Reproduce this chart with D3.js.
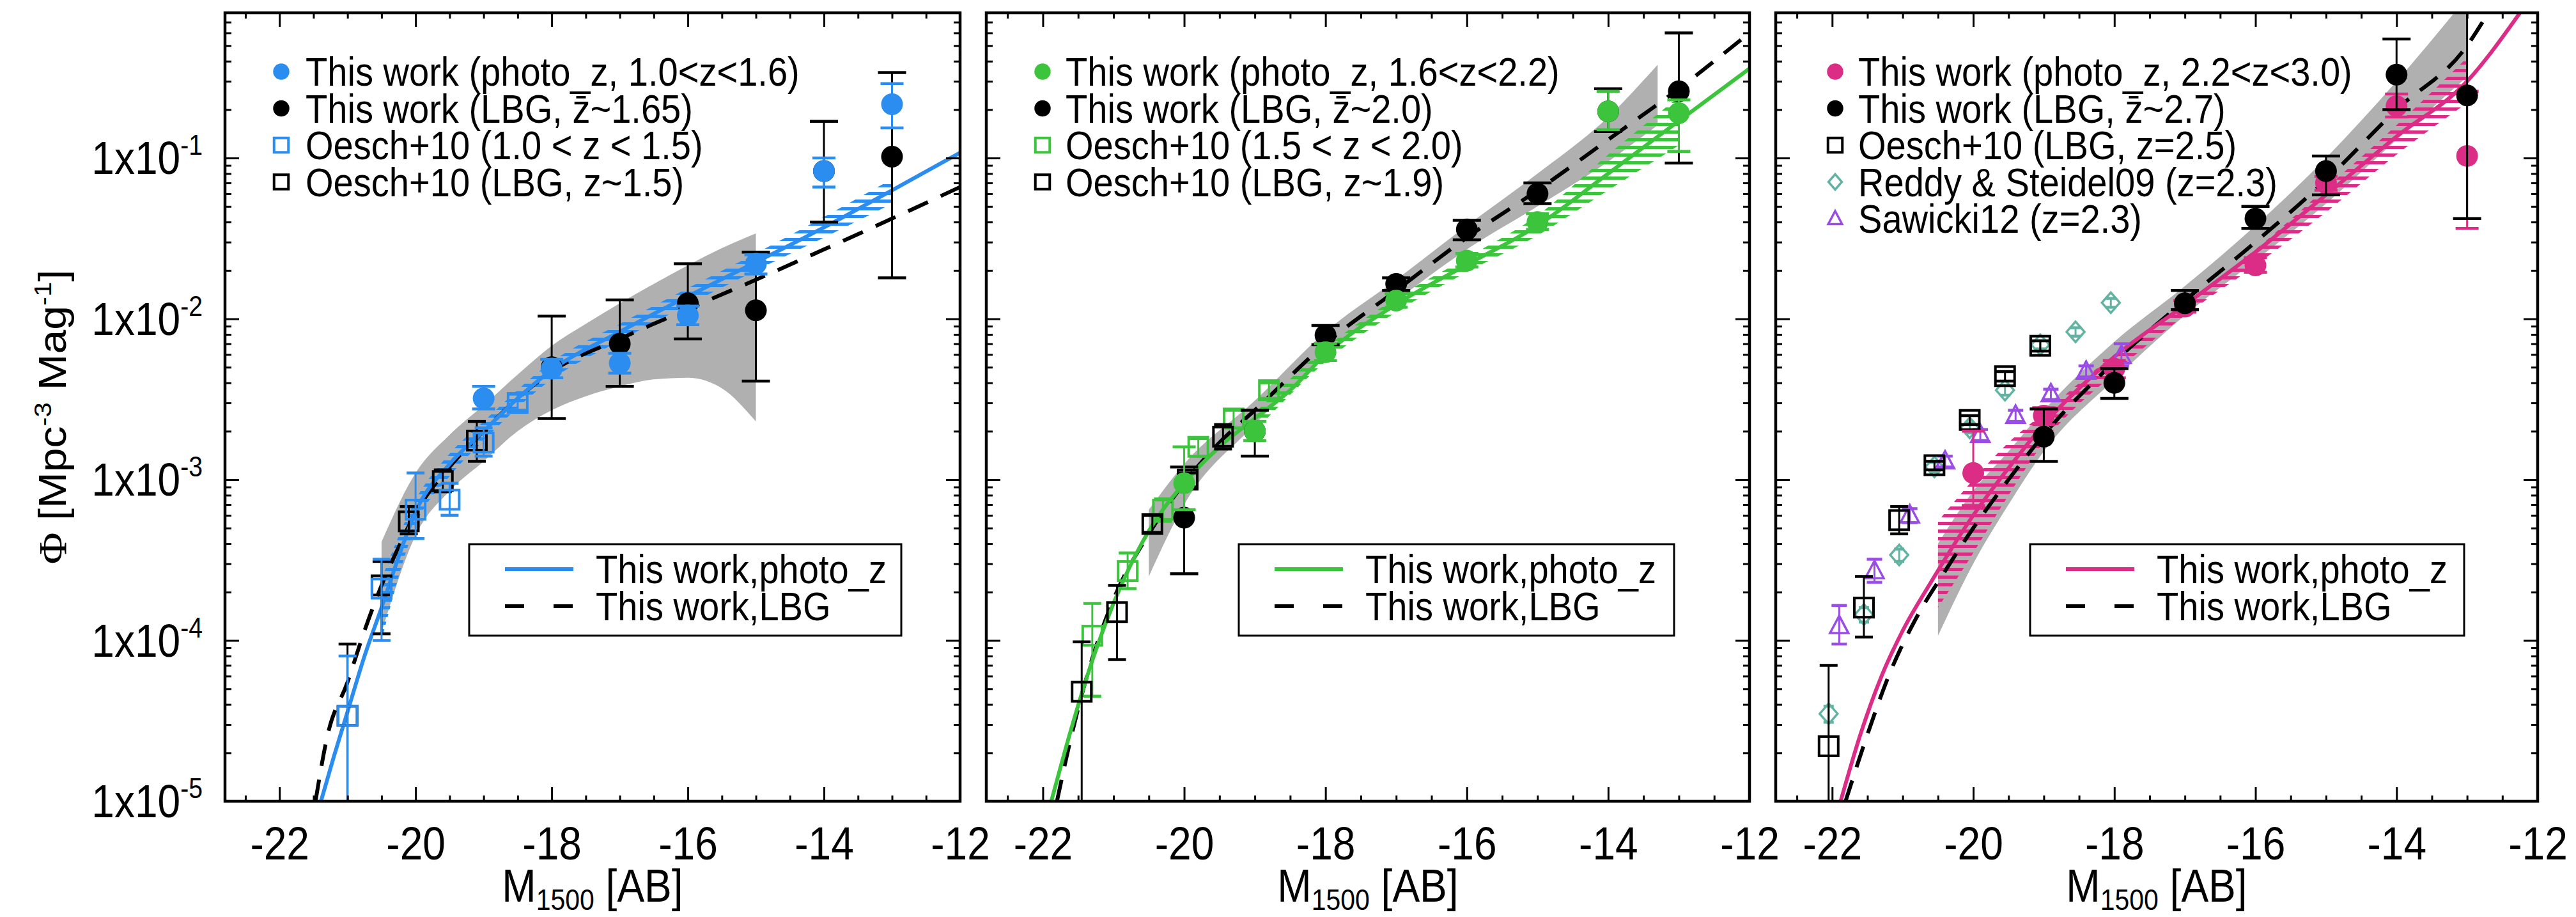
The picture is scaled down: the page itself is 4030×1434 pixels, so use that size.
<!DOCTYPE html>
<html>
<head>
<meta charset="utf-8">
<script src="https://cdn.jsdelivr.net/npm/d3@7"></script>
<style>
  body { margin: 0; background: #fff; }
  svg { display: block; }
  text { font-family: "Liberation Sans", Arial, Helvetica, sans-serif; fill: #000; }
</style>
</head>
<body>
<svg id="chart" width="4030" height="1434"></svg>
<script>
// ---------------- values ----------------
const xTicks = [-22, -20, -18, -16, -14, -12];
const yTicks = [1e-5, 1e-4, 1e-3, 1e-2, 1e-1];

// panel 1 : 1.0 < z < 1.6
const p1Labels = ["This work (photo_z, 1.0<z<1.6)", "This work (LBG, z\u0304~1.65)",
                  "Oesch+10 (1.0 < z < 1.5)", "Oesch+10 (LBG, z~1.5)"];
const p1PhotoM   = [-19, -18, -17, -16, -15, -14, -13];
const p1PhotoPhi = [3.2e-3, 4.9e-3, 5.3e-3, 1.05e-2, 2.2e-2, 8.3e-2, 0.216];
const p1PhotoLo  = [2.75e-3, 4.3e-3, 4.6e-3, 9.2e-3, 1.9e-2, 6.6e-2, 0.154];
const p1PhotoHi  = [3.8e-3, 5.6e-3, 6.1e-3, 1.2e-2, 2.5e-2, 0.1, 0.29];
const p1LbgM   = [-18, -17, -16, -15, -14, -13];
const p1LbgPhi = [5.0e-3, 7.0e-3, 1.25e-2, 1.13e-2, 8.3e-2, 0.102];
const p1LbgLo  = [2.4e-3, 3.8e-3, 7.5e-3, 4.1e-3, 4.0e-2, 1.8e-2];
const p1LbgHi  = [1.04e-2, 1.31e-2, 2.2e-2, 2.6e-2, 0.169, 0.34];
const p1OeschM   = [-21.0, -20.5, -20.0, -19.5, -19.0, -18.5];
const p1OeschPhi = [3.4e-5, 2.1e-4, 6.5e-4, 7.5e-4, 1.7e-3, 3.0e-3];
const p1OeschLo  = [1e-6, 1.0e-4, 4.3e-4, 6.0e-4, 1.4e-3, 2.7e-3];
const p1OeschHi  = [8.0e-5, 3.2e-4, 1.1e-3, 9.5e-4, 2.1e-3, 3.4e-3];
const p1OeschLbgM   = [-21.0, -20.5, -20.1, -19.6, -19.1];
const p1OeschLbgPhi = [3.4e-5, 2.2e-4, 5.5e-4, 9.8e-4, 1.75e-3];
const p1OeschLbgLo  = [1e-6, 1.1e-4, 4.6e-4, 8.4e-4, 1.3e-3];
const p1OeschLbgHi  = [9.5e-5, 3.1e-4, 6.8e-4, 1.15e-3, 2.3e-3];
const p1FitM   = [-21.39, -21.2, -21.0, -20.75, -20.5, -20.25, -20.0, -19.5, -19.0, -18.5, -18.0, -17.0, -16.0, -15.0, -14.0, -13.0, -12.0];
const p1FitPhi = [1e-5, 1.9e-5, 3.6e-5, 8.0e-5, 1.6e-4, 3.3e-4, 6.3e-4, 1.25e-3, 2.0e-3, 3.2e-3, 4.8e-3, 8.3e-3, 1.38e-2, 2.25e-2, 3.7e-2, 6.3e-2, 0.108];
const p1LbgFitM   = [-21.47, -21.3, -21.0, -20.75, -20.5, -20.25, -20.0, -19.5, -19.0, -18.5, -18.0, -17.0, -16.0, -15.0, -14.0, -13.0, -12.0];
const p1LbgFitPhi = [1e-5, 2.5e-5, 5.5e-5, 1.15e-4, 2.2e-4, 3.8e-4, 6.2e-4, 1.2e-3, 2.0e-3, 3.2e-3, 4.7e-3, 7.5e-3, 1.15e-2, 1.75e-2, 2.7e-2, 4.2e-2, 6.6e-2];
const p1BandM  = [-20.5, -20.0, -19.5, -19.0, -18.5, -18.0, -17.5, -17.0, -16.5, -16.0, -15.5, -15.0];
const p1BandHi = [4.1e-4, 1.1e-3, 1.9e-3, 2.9e-3, 4.5e-3, 6.8e-3, 9.3e-3, 1.25e-2, 1.65e-2, 2.15e-2, 2.75e-2, 3.4e-2];
const p1BandLo = [1.12e-4, 4.5e-4, 8.5e-4, 1.3e-3, 2.0e-3, 2.7e-3, 3.3e-3, 3.8e-3, 4.2e-3, 4.3e-3, 3.7e-3, 2.3e-3];
const p1HatchM  = [-20.5, -20.0, -19.5, -19.0, -18.0, -17.0, -16.0, -15.0, -14.0, -13.0];
const p1HatchHi = [2.4e-4, 7.5e-4, 1.45e-3, 2.3e-3, 5.4e-3, 9.3e-3, 1.55e-2, 2.55e-2, 4.3e-2, 7.4e-2];
const p1HatchLo = [1.0e-4, 5.2e-4, 1.05e-3, 1.75e-3, 4.2e-3, 7.3e-3, 1.22e-2, 2.0e-2, 3.2e-2, 5.2e-2];

// panel 2 : 1.6 < z < 2.2
const p2Labels = ["This work (photo_z, 1.6<z<2.2)", "This work (LBG, z\u0304~2.0)",
                  "Oesch+10 (1.5 < z < 2.0)", "Oesch+10 (LBG, z~1.9)"];
const p2PhotoM   = [-20, -19, -18, -17, -16, -15, -14, -13];
const p2PhotoPhi = [9.5e-4, 2.0e-3, 6.2e-3, 1.3e-2, 2.3e-2, 4.0e-2, 0.195, 0.19];
const p2PhotoLo  = [6.5e-4, 1.75e-3, 5.5e-3, 1.18e-2, 2.1e-2, 3.6e-2, 0.15, 0.11];
const p2PhotoHi  = [1.6e-3, 2.3e-3, 7.0e-3, 1.43e-2, 2.55e-2, 4.5e-2, 0.26, 0.23];
const p2LbgM   = [-20, -19, -18, -17, -16, -15, -14, -13];
const p2LbgPhi = [5.8e-4, 2.0e-3, 7.9e-3, 1.65e-2, 3.6e-2, 6.0e-2, 0.195, 0.26];
const p2LbgLo  = [2.6e-4, 1.4e-3, 6.9e-3, 1.5e-2, 3.1e-2, 5.2e-2, 0.146, 0.093];
const p2LbgHi  = [1.2e-3, 2.7e-3, 9.1e-3, 1.8e-2, 4.1e-2, 7.0e-2, 0.27, 0.6];
const p2OeschM   = [-21.3, -20.8, -20.3, -19.8, -19.3, -18.8];
const p2OeschPhi = [1.07e-4, 2.7e-4, 6.5e-4, 1.6e-3, 2.4e-3, 3.6e-3];
const p2OeschLo  = [4.5e-5, 2.1e-4, 5.5e-4, 1.4e-3, 2.1e-3, 3.2e-3];
const p2OeschHi  = [1.7e-4, 3.5e-4, 7.6e-4, 1.8e-3, 2.7e-3, 4.0e-3];
const p2OeschLbgM   = [-21.45, -20.95, -20.45, -19.95, -19.45];
const p2OeschLbgPhi = [4.8e-5, 1.5e-4, 5.3e-4, 1.0e-3, 1.85e-3];
const p2OeschLbgLo  = [1e-6, 7.6e-5, 4.7e-4, 9.0e-4, 1.55e-3];
const p2OeschLbgHi  = [9.8e-5, 2.2e-4, 6.0e-4, 1.1e-3, 2.2e-3];
const p2FitM   = [-21.88, -21.6, -21.3, -21.0, -20.5, -20.0, -19.5, -19.0, -18.5, -18.0, -17.0, -16.0, -15.0, -14.0, -13.0, -12.0];
const p2FitPhi = [1e-5, 2.8e-5, 7.5e-5, 1.7e-4, 4.8e-4, 9.5e-4, 1.6e-3, 2.4e-3, 3.6e-3, 6.0e-3, 1.23e-2, 2.17e-2, 3.8e-2, 8.0e-2, 0.17, 0.36];
const p2LbgFitM   = [-21.8, -21.6, -21.4, -21.0, -20.5, -20.0, -19.5, -19.0, -18.0, -17.0, -16.0, -15.0, -14.0, -13.0, -12.0];
const p2LbgFitPhi = [1e-5, 2.5e-5, 5.5e-5, 1.8e-4, 4.6e-4, 9.5e-4, 1.7e-3, 2.7e-3, 7.0e-3, 1.5e-2, 3.2e-2, 6.3e-2, 0.13, 0.27, 0.6];
const p2BandM  = [-20.5, -20.0, -19.0, -18.0, -17.0, -16.0, -15.0, -14.0, -13.3];
const p2BandHi = [6.5e-4, 1.25e-3, 3.1e-3, 8.3e-3, 1.75e-2, 3.8e-2, 8.0e-2, 0.18, 0.38];
const p2BandLo = [2.5e-4, 7.0e-4, 2.2e-3, 6.0e-3, 1.3e-2, 2.7e-2, 5.0e-2, 0.095, 0.16];
const p2HatchM  = [-19.0, -18.0, -17.0, -16.0, -15.0, -14.0, -13.0];
const p2HatchHi = [2.6e-3, 6.6e-3, 1.35e-2, 2.4e-2, 4.4e-2, 0.105, 0.24];
const p2HatchLo = [2.0e-3, 5.4e-3, 1.1e-2, 1.95e-2, 3.3e-2, 6.3e-2, 0.12];

// panel 3 : 2.2 < z < 3.0
const p3Labels = ["This work (photo_z, 2.2<z<3.0)", "This work (LBG, z\u0304~2.7)",
                  "Oesch+10  (LBG, z=2.5)", "Reddy & Steidel09 (z=2.3)", "Sawicki12 (z=2.3)"];
const p3PhotoM   = [-20, -19, -18, -17, -16, -15, -14, -13];
const p3PhotoPhi = [1.1e-3, 2.5e-3, 4.9e-3, 1.19e-2, 2.15e-2, 7.0e-2, 0.21, 0.103];
const p3PhotoLo  = [6.9e-4, 2.2e-3, 4.3e-3, 1.1e-2, 1.95e-2, 6.3e-2, 0.18, 0.0365];
const p3PhotoHi  = [2.0e-3, 2.8e-3, 5.5e-3, 1.3e-2, 2.4e-2, 7.7e-2, 0.25, 0.26];
const p3LbgM   = [-19, -18, -17, -16, -15, -14, -13];
const p3LbgPhi = [1.85e-3, 4.0e-3, 1.25e-2, 4.2e-2, 8.3e-2, 0.33, 0.245];
const p3LbgLo  = [1.3e-3, 3.2e-3, 1.14e-2, 3.65e-2, 5.9e-2, 0.2, 0.042];
const p3LbgHi  = [2.75e-3, 4.9e-3, 1.5e-2, 5.0e-2, 0.103, 0.55, 0.9];
const p3OeschLbgM   = [-22.05, -21.55, -21.05, -20.55, -20.05, -19.55, -19.05];
const p3OeschLbgPhi = [2.2e-5, 1.6e-4, 5.6e-4, 1.23e-3, 2.35e-3, 4.4e-3, 6.8e-3];
const p3OeschLbgLo  = [1e-6, 1.05e-4, 4.6e-4, 1.15e-3, 2.2e-3, 4.1e-3, 6.3e-3];
const p3OeschLbgHi  = [7.0e-5, 2.5e-4, 6.8e-4, 1.3e-3, 2.5e-3, 4.7e-3, 7.3e-3];
const p3ReddyM   = [-22.05, -21.55, -21.05, -20.55, -20.05, -19.55, -19.05, -18.55, -18.05];
const p3ReddyPhi = [3.5e-5, 1.45e-4, 3.4e-4, 1.2e-3, 2.1e-3, 3.6e-3, 6.9e-3, 8.3e-3, 1.26e-2];
const p3ReddyLo  = [3.1e-5, 1.3e-4, 3.1e-4, 1.12e-3, 1.95e-3, 3.35e-3, 6.5e-3, 7.8e-3, 1.18e-2];
const p3ReddyHi  = [3.9e-5, 1.6e-4, 3.7e-4, 1.28e-3, 2.25e-3, 3.85e-3, 7.3e-3, 8.8e-3, 1.34e-2];
const p3SawickiM   = [-21.9, -21.4, -20.9, -20.4, -19.9, -19.4, -18.9, -18.4, -17.9];
const p3SawickiPhi = [1.23e-4, 2.7e-4, 6.0e-4, 1.3e-3, 1.9e-3, 2.5e-3, 3.4e-3, 4.7e-3, 5.9e-3];
const p3SawickiLo  = [9.5e-5, 2.3e-4, 5.4e-4, 1.2e-3, 1.75e-3, 2.3e-3, 3.15e-3, 4.35e-3, 5.1e-3];
const p3SawickiHi  = [1.65e-4, 3.2e-4, 6.6e-4, 1.4e-3, 2.05e-3, 2.7e-3, 3.65e-3, 5.1e-3, 7.0e-3];
const p3FitM   = [-21.88, -21.6, -21.3, -21.0, -20.6, -20.0, -19.5, -19.0, -18.0, -17.0, -16.0, -15.0, -14.0, -13.0, -12.25];
const p3FitPhi = [1e-5, 2.6e-5, 6.0e-5, 1.15e-4, 2.3e-4, 6.0e-4, 1.18e-3, 2.2e-3, 5.8e-3, 1.22e-2, 2.6e-2, 5.9e-2, 0.136, 0.30, 0.8];
const p3LbgFitM   = [-21.81, -21.5, -21.2, -20.8, -20.4, -20.0, -19.5, -19.0, -18.0, -17.0, -16.0, -15.0, -14.0, -13.0, -12.7];
const p3LbgFitPhi = [1e-5, 2.6e-5, 6.0e-5, 1.4e-4, 2.7e-4, 5.0e-4, 1.0e-3, 1.9e-3, 5.4e-3, 1.3e-2, 3.0e-2, 7.3e-2, 0.2, 0.5, 0.8];
const p3BandM  = [-20.5, -20.0, -19.5, -19.0, -18.0, -17.0, -16.0, -15.0, -14.0, -13.0];
const p3BandHi = [4.0e-4, 8.5e-4, 1.5e-3, 2.7e-3, 7.2e-3, 1.6e-2, 3.8e-2, 0.1, 0.3, 1.0];
const p3BandLo = [1.07e-4, 3.0e-4, 7.0e-4, 1.5e-3, 4.2e-3, 1.05e-2, 2.3e-2, 5.2e-2, 0.13, 0.32];
const p3HatchM  = [-20.5, -20.0, -19.5, -19.0, -18.0, -17.0, -16.0, -15.0, -14.0, -13.0];
const p3HatchHi = [5.5e-4, 1.0e-3, 1.7e-3, 2.6e-3, 6.0e-3, 1.25e-2, 2.7e-2, 6.5e-2, 0.16, 0.42];
const p3HatchLo = [1.6e-4, 3.5e-4, 8.0e-4, 1.7e-3, 4.6e-3, 1.05e-2, 2.15e-2, 4.6e-2, 0.105, 0.22];

// ---------------- layout / style ----------------
const TOP = 20, BOTTOM = 1253;
const SQ = 0.89;                 // the source figure is slightly squeezed horizontally
const BLUE = "#2b8def", GREEN = "#3cc43c", PINK = "#dc2d86", TEAL = "#63b3a3", PURPLE = "#9a4ce6";
const GRAY = "#b0b0b0";

const pts = (m, phi, lo, hi) => m.map((d, i) => ({m: d, phi: phi[i], lo: lo[i], hi: hi[i]}));
const crv = (m, phi) => m.map((d, i) => ({m: d, phi: phi[i]}));
const band = (m, lo, hi) => m.map((d, i) => ({m: d, lo: lo[i], hi: hi[i]}));

const panels = [
  { x0: 352, x1: 1502, box: 382, boxW: 676, legX: 88, legT: 126, color: BLUE, labels: p1Labels,
    fit: crv(p1FitM, p1FitPhi), lbgFit: crv(p1LbgFitM, p1LbgFitPhi),
    band: band(p1BandM, p1BandLo, p1BandHi), hatch: band(p1HatchM, p1HatchLo, p1HatchHi),
    series: [
      {d: pts(p1OeschLbgM, p1OeschLbgPhi, p1OeschLbgLo, p1OeschLbgHi), shape: "square", color: "#000", cap: 14},
      {d: pts(p1OeschM, p1OeschPhi, p1OeschLo, p1OeschHi), shape: "square", color: BLUE, cap: 14},
      {d: pts(p1LbgM, p1LbgPhi, p1LbgLo, p1LbgHi), shape: "circle", color: "#000", cap: 22},
      {d: pts(p1PhotoM, p1PhotoPhi, p1PhotoLo, p1PhotoHi), shape: "circle", color: BLUE, cap: 18}],
    legend: [["circle", BLUE], ["circle", "#000"], ["square", BLUE], ["square", "#000"]] },
  { x0: 1543, x1: 2737, box: 395, boxW: 681, legX: 88, legT: 124, color: GREEN, labels: p2Labels,
    fit: crv(p2FitM, p2FitPhi), lbgFit: crv(p2LbgFitM, p2LbgFitPhi),
    band: band(p2BandM, p2BandLo, p2BandHi), hatch: band(p2HatchM, p2HatchLo, p2HatchHi),
    series: [
      {d: pts(p2OeschM, p2OeschPhi, p2OeschLo, p2OeschHi), shape: "square", color: GREEN, cap: 14},
      {d: pts(p2OeschLbgM, p2OeschLbgPhi, p2OeschLbgLo, p2OeschLbgHi), shape: "square", color: "#000", cap: 14},
      {d: pts(p2LbgM, p2LbgPhi, p2LbgLo, p2LbgHi), shape: "circle", color: "#000", cap: 22},
      {d: pts(p2PhotoM, p2PhotoPhi, p2PhotoLo, p2PhotoHi), shape: "circle", color: GREEN, cap: 18}],
    legend: [["circle", GREEN], ["circle", "#000"], ["square", GREEN], ["square", "#000"]] },
  { x0: 2778, x1: 3970, box: 398, boxW: 679, legX: 93, legT: 129, color: PINK, labels: p3Labels,
    fit: crv(p3FitM, p3FitPhi), lbgFit: crv(p3LbgFitM, p3LbgFitPhi),
    band: band(p3BandM, p3BandLo, p3BandHi), hatch: band(p3HatchM, p3HatchLo, p3HatchHi),
    series: [
      {d: pts(p3ReddyM, p3ReddyPhi, p3ReddyLo, p3ReddyHi), shape: "diamond", color: TEAL, cap: 8},
      {d: pts(p3SawickiM, p3SawickiPhi, p3SawickiLo, p3SawickiHi), shape: "triangle", color: PURPLE, cap: 12},
      {d: pts(p3OeschLbgM, p3OeschLbgPhi, p3OeschLbgLo, p3OeschLbgHi), shape: "square", color: "#000", cap: 14},
      {d: pts(p3PhotoM, p3PhotoPhi, p3PhotoLo, p3PhotoHi), shape: "circle", color: PINK, cap: 18},
      {d: pts(p3LbgM, p3LbgPhi, p3LbgLo, p3LbgHi), shape: "circle", color: "#000", cap: 22}],
    legend: [["circle", PINK], ["circle", "#000"], ["square", "#000"], ["diamond", TEAL], ["triangle", PURPLE]] }
];

// ---------------- drawing ----------------
const svg = d3.select("#chart");
const defs = svg.append("defs");
svg.append("rect").attr("width", 4030).attr("height", 1434).attr("fill", "#fff");

const y = d3.scaleLog().domain([1e-5, 0.8]).range([BOTTOM, TOP]);
const yMinor = [];
yTicks.forEach(t => { for (let k = 2; k <= 9; k++) if (t * k <= 0.8) yMinor.push(t * k); });
const xMinor = d3.range(-22.5, -12, 0.5).filter(v => !xTicks.includes(v));

function marker(g, shape, color, cx, cy, s) {
  if (shape === "circle") {
    g.append("circle").attr("cx", cx).attr("cy", cy).attr("r", 17 * s).attr("fill", color);
  } else if (shape === "square") {
    g.append("rect").attr("x", cx - 15 * s).attr("y", cy - 15 * s).attr("width", 30 * s).attr("height", 30 * s)
      .attr("fill", "none").attr("stroke", color).attr("stroke-width", 4);
  } else if (shape === "diamond") {
    const a = 16 * s, b = 14 * s;
    g.append("path").attr("d", `M${cx},${cy - a}L${cx + b},${cy}L${cx},${cy + a}L${cx - b},${cy}Z`)
      .attr("fill", "none").attr("stroke", color).attr("stroke-width", 3.5);
  } else {
    const a = 16 * s;
    g.append("path").attr("d", `M${cx},${cy - a}L${cx + a * 0.9},${cy + a * 0.7}L${cx - a * 0.9},${cy + a * 0.7}Z`)
      .attr("fill", "none").attr("stroke", color).attr("stroke-width", 3.5);
  }
}

panels.forEach((p, i) => {
  const x = d3.scaleLinear().domain([-22.8, -12]).range([p.x0, p.x1]);
  const g = svg.append("g");

  defs.append("clipPath").attr("id", "clip" + i).append("rect")
    .attr("x", p.x0).attr("y", TOP).attr("width", p.x1 - p.x0).attr("height", BOTTOM - TOP);
  const pat = defs.append("pattern").attr("id", "hatch" + i)
    .attr("patternUnits", "userSpaceOnUse").attr("width", 12).attr("height", 12);
  pat.append("rect").attr("width", 12).attr("height", 5).attr("fill", p.color);

  const plot = g.append("g").attr("clip-path", `url(#clip${i})`);
  const area = d3.area().x(d => x(d.m)).y0(d => y(d.lo)).y1(d => y(d.hi)).curve(d3.curveMonotoneX);
  const line = d3.line().x(d => x(d.m)).y(d => y(d.phi)).curve(d3.curveMonotoneX);

  plot.append("path").datum(p.band).attr("d", area).attr("fill", GRAY);
  plot.append("path").datum(p.hatch).attr("d", area).attr("fill", `url(#hatch${i})`);
  plot.append("path").datum(p.lbgFit).attr("d", line).attr("fill", "none")
    .attr("stroke", "#000").attr("stroke-width", 6).attr("stroke-dasharray", "34 22");
  plot.append("path").datum(p.fit).attr("d", line).attr("fill", "none")
    .attr("stroke", p.color).attr("stroke-width", 6);

  // error bars + symbols
  p.series.forEach(s => {
    const eg = plot.append("g").attr("stroke", s.color);
    s.d.forEach(d => {
      const cx = x(d.m);
      eg.append("line").attr("x1", cx).attr("x2", cx).attr("y1", y(d.lo)).attr("y2", y(d.hi)).attr("stroke-width", 3);
      [d.lo, d.hi].forEach(v => eg.append("line").attr("x1", cx - s.cap).attr("x2", cx + s.cap)
        .attr("y1", y(v)).attr("y2", y(v)).attr("stroke-width", 4.5));
    });
    const mg = plot.append("g");
    s.d.forEach(d => marker(mg, s.shape, s.color, x(d.m), y(d.phi), 1));
  });

  // axes
  const tidy = a => { a.select(".domain").remove(); a.selectAll(".tick line").attr("stroke-width", 3); };
  g.append("g").attr("transform", `translate(0,${BOTTOM})`)
    .call(d3.axisBottom(x).tickValues(xTicks).tickSize(-22).tickPadding(40).tickFormat(d3.format("d")))
    .call(tidy)
    .call(a => a.selectAll("text").attr("font-size", 72).attr("font-family", null)
      .attr("transform", `scale(${SQ},1)`).text(d => "-" + Math.abs(d)));
  g.append("g").attr("transform", `translate(0,${BOTTOM})`)
    .call(d3.axisBottom(x).tickValues(xMinor).tickSize(-9).tickFormat("")).call(tidy);
  g.append("g").attr("transform", `translate(0,${TOP})`)
    .call(d3.axisTop(x).tickValues(xTicks).tickSize(-22).tickFormat("")).call(tidy);
  g.append("g").attr("transform", `translate(0,${TOP})`)
    .call(d3.axisTop(x).tickValues(xMinor).tickSize(-9).tickFormat("")).call(tidy);
  [[d3.axisLeft, p.x0], [d3.axisRight, p.x1]].forEach(([ax, px]) => {
    g.append("g").attr("transform", `translate(${px},0)`)
      .call(ax(y).tickValues(yTicks).tickSize(-22).tickFormat("")).call(tidy);
    g.append("g").attr("transform", `translate(${px},0)`)
      .call(ax(y).tickValues(yMinor).tickSize(-10).tickFormat("")).call(tidy);
  });
  g.append("rect").attr("x", p.x0).attr("y", TOP).attr("width", p.x1 - p.x0).attr("height", BOTTOM - TOP)
    .attr("fill", "none").attr("stroke", "#000").attr("stroke-width", 4.5);

  // x title
  const xt = g.append("g").attr("transform", `translate(${(p.x0 + p.x1) / 2},1410)`)
    .append("text").attr("text-anchor", "middle").attr("font-size", 72).attr("transform", `scale(${SQ},1)`);
  xt.append("tspan").text("M");
  xt.append("tspan").attr("font-size", 46).attr("dy", 13).text("1500");
  xt.append("tspan").attr("dy", -13).text(" [AB]");

  // symbol legend (top left)
  p.labels.forEach((lab, k) => {
    const ly = 112 + k * 57.5;
    marker(g, p.legend[k][0], p.legend[k][1], p.x0 + p.legX, ly, 0.75);
    g.append("g").attr("transform", `translate(${p.x0 + p.legT},${ly + 22})`)
      .append("text").attr("font-size", 63).attr("transform", `scale(${SQ},1)`).text(lab);
  });

  // line legend (boxed)
  const bx = p.x0 + p.box;
  g.append("rect").attr("x", bx).attr("y", 851).attr("width", p.boxW).attr("height", 143)
    .attr("fill", "#fff").attr("stroke", "#000").attr("stroke-width", 3);
  g.append("line").attr("x1", bx + 56).attr("x2", bx + 163).attr("y1", 890).attr("y2", 890)
    .attr("stroke", p.color).attr("stroke-width", 6);
  g.append("line").attr("x1", bx + 56).attr("x2", bx + 163).attr("y1", 948).attr("y2", 948)
    .attr("stroke", "#000").attr("stroke-width", 6).attr("stroke-dasharray", "30 46");
  [["This work,photo_z", 890], ["This work,LBG", 948]].forEach(([t, ly]) => {
    g.append("g").attr("transform", `translate(${bx + 198},${ly + 22})`)
      .append("text").attr("font-size", 63).attr("transform", `scale(${SQ},1)`).text(t);
  });
});

// y tick labels (left panel only)
yTicks.forEach(t => {
  const e = Math.round(Math.log10(t));
  const tx = svg.append("g").attr("transform", `translate(317,${y(t) + 25})`)
    .append("text").attr("text-anchor", "end").attr("font-size", 72).attr("transform", `scale(${SQ},1)`);
  tx.append("tspan").text("1x10");
  tx.append("tspan").attr("font-size", 44).attr("dy", -30).text(String(e));
});

// y title
const yt = svg.append("text").attr("text-anchor", "middle").attr("font-size", 68)
  .attr("transform", `translate(82,652) rotate(-90) scale(1,${SQ})`).attr("dy", "0.35em");
yt.append("tspan").attr("font-family", "Liberation Serif, serif").text("\u03A6");
yt.append("tspan").text(" [Mpc");
yt.append("tspan").attr("font-size", 42).attr("dy", -26).text("-3");
yt.append("tspan").attr("dy", 26).text(" Mag");
yt.append("tspan").attr("font-size", 42).attr("dy", -26).text("-1");
yt.append("tspan").attr("dy", 26).text("]");
</script>
</body>
</html>
